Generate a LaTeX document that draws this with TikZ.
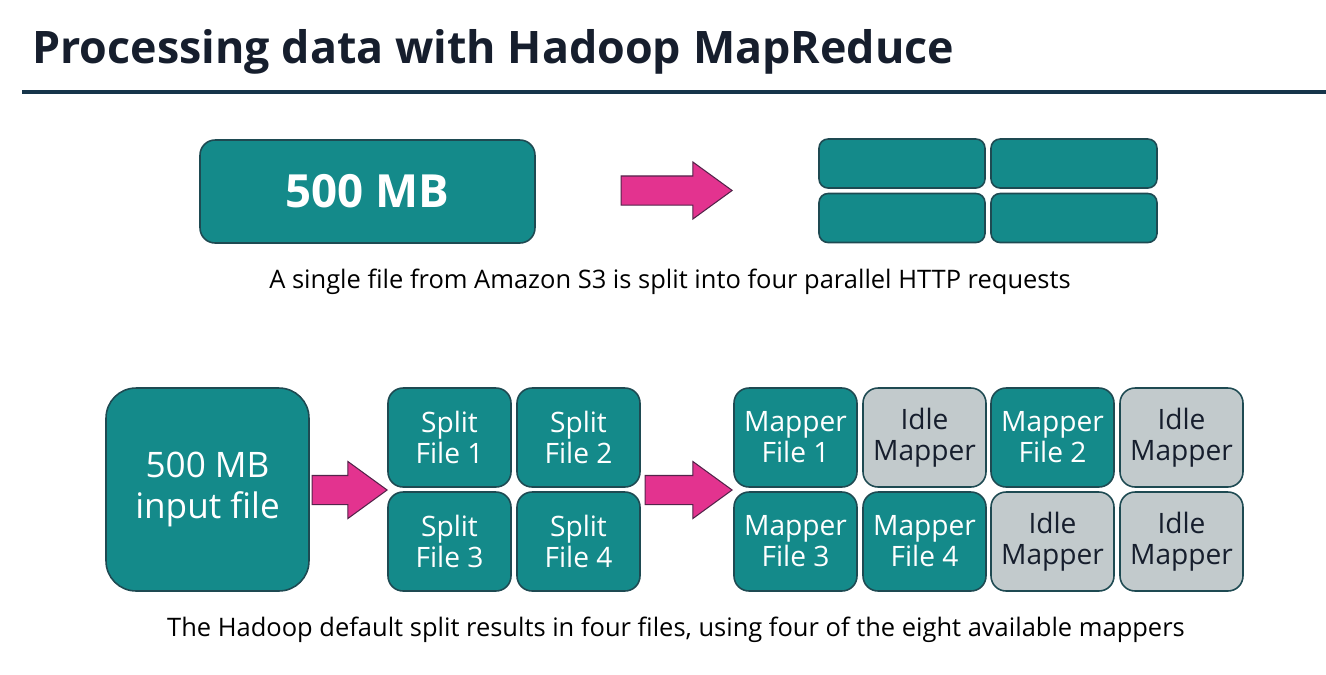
\documentclass[tikz,border=0pt]{standalone}
\usepackage{fontspec}
\setmainfont{Open Sans}
\usetikzlibrary{shapes.arrows}

\definecolor{tealbox}{HTML}{148A8A}
\definecolor{tealedge}{HTML}{1E4A52}
\definecolor{idlebox}{HTML}{C2CACC}
\definecolor{rulenavy}{HTML}{16354A}
\definecolor{pinkarrow}{HTML}{E3338F}
\definecolor{inkdark}{HTML}{161E2D}

\begin{document}
\begin{tikzpicture}[x=0.02cm, y=-0.02cm,
    blocco/.style={draw=tealedge, line width=0.9pt, fill=tealbox, text=white,
        align=center, inner sep=0pt},
    piccolo/.style={blocco, minimum width=2.46cm, minimum height=1.98cm,
        rounded corners=0.3cm, font=\fontsize{16}{17.6}\selectfont},
    riposo/.style={piccolo, fill=idlebox, text=inkdark},
    freccia/.style={single arrow, draw=inkdark!70!pinkarrow, line width=0.6pt,
        fill=pinkarrow, inner xsep=0pt, inner ysep=0.28cm, minimum width=1.12cm,
        single arrow head extend=0.28cm, single arrow tip angle=72, anchor=tip},
    didascalia/.style={anchor=base, text=black, font=\fontsize{14.5}{17}\selectfont}]

    % Area della pagina
    \useasboundingbox (0,0) rectangle (1326,674);

    % Titolo e linea
    \node[anchor=base west, inner sep=0pt, text=inkdark,
        font=\fontsize{25.5}{28}\selectfont\bfseries] (titolo) at (32,63)
        {Processing data with Hadoop MapReduce};
    \draw[rulenavy, line width=2.3pt] (22,92) -- (1326,92);

    % Parte alta: file unico e quattro richieste
    \node[blocco, minimum width=6.7cm, minimum height=2.06cm, rounded corners=0.3cm,
        font=\fontsize{26}{28}\selectfont\bfseries] (file) at (367.5,191.5) {500 MB};
    \node[freccia, minimum height=2.22cm] (frecciaA) at (733,190.5) {};
    \node[blocco, minimum width=3.32cm, minimum height=0.98cm, rounded corners=0.18cm] (parte1) at (902,163.5) {};
    \node[blocco, minimum width=3.32cm, minimum height=0.98cm, rounded corners=0.18cm] (parte2) at (1074,163.5) {};
    \node[blocco, minimum width=3.32cm, minimum height=0.98cm, rounded corners=0.18cm] (parte3) at (902,218) {};
    \node[blocco, minimum width=3.32cm, minimum height=0.98cm, rounded corners=0.18cm] (parte4) at (1074,218) {};
    \node[didascalia] (testoA) at (670,288)
        {A single file from Amazon S3 is split into four parallel HTTP requests};

    % Parte bassa: file di input
    \node[blocco, minimum width=4.06cm, minimum height=4.06cm, rounded corners=0.6cm,
        font=\fontsize{20}{23.5}\selectfont] (input) at (207.5,489.5) {500 MB\\input file};
    \node[freccia, minimum height=1.5cm] (frecciaB) at (388,490) {};

    % Split del file
    \node[piccolo] (split1) at (449.5,437.5) {Split\\File 1};
    \node[piccolo] (split2) at (578.5,437.5) {Split\\File 2};
    \node[piccolo] (split3) at (449.5,541.5) {Split\\File 3};
    \node[piccolo] (split4) at (578.5,541.5) {Split\\File 4};
    \node[freccia, minimum height=1.74cm] (frecciaC) at (733,490) {};

    % Mapper attivi e inattivi
    \node[piccolo] (mapper1) at (795.5,437.5) {Mapper\\File 1};
    \node[riposo] (idle1) at (924.5,437.5) {Idle\\Mapper};
    \node[piccolo] (mapper2) at (1052.5,437.5) {Mapper\\File 2};
    \node[riposo] (idle2) at (1181.5,437.5) {Idle\\Mapper};
    \node[piccolo] (mapper3) at (795.5,541.5) {Mapper\\File 3};
    \node[piccolo] (mapper4) at (924.5,541.5) {Mapper\\File 4};
    \node[riposo] (idle3) at (1052.5,541.5) {Idle\\Mapper};
    \node[riposo] (idle4) at (1181.5,541.5) {Idle\\Mapper};

    \node[didascalia] (testoB) at (676,636)
        {The Hadoop default split results in four files, using four of the eight available mappers};

\end{tikzpicture}
\end{document}
